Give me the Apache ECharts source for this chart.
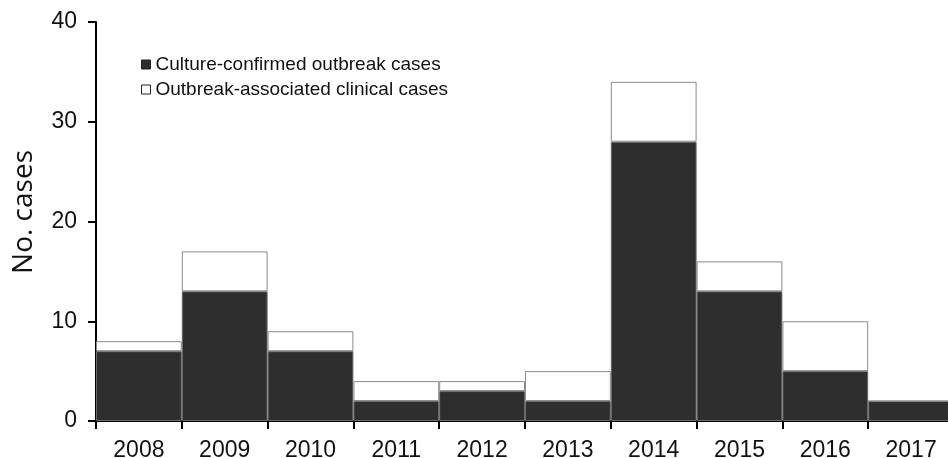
<!DOCTYPE html>
<html>
<head>
<meta charset="utf-8">
<script src="https://cdn.jsdelivr.net/npm/echarts@6/dist/echarts.min.js"></script>
<style>
  html, body { margin: 0; padding: 0; background: #fff; }
  #chart { width: 948px; height: 458px; }
</style>
</head>
<body>
<div id="chart"></div>
<script>
// data
const years = ['2008', '2009', '2010', '2011', '2012', '2013', '2014', '2015', '2016', '2017']
const cultureConfirmed = [7, 13, 7, 2, 3, 2, 28, 13, 5, 2]
const clinicalCases = [1, 4, 2, 2, 1, 3, 6, 3, 5, 0]
const yTicks = [0, 10, 20, 30, 40]

const chart = echarts.init(document.getElementById('chart'))

const axisFont = 'Liberation Sans, Arial, sans-serif'

const option = {
  animation: false,
  grid: {
    left: 96,
    right: -6,
    top: 22,
    bottom: 37,
    // let the last bar run off the right edge like in the original
    outerBoundsMode: 'none'
  },
  // y axis title, placed by hand to sit a little above the middle like the original
  graphic: [
    {
      type: 'text',
      left: 10,
      top: 150,
      rotation: Math.PI / 2,
      style: {
        text: 'No. cases',
        font: '28px "Open Sans", "Noto Sans", sans-serif',
        fill: '#111'
      }
    }
  ],
  legend: {
    orient: 'vertical',
    left: 136,
    top: 50,
    itemWidth: 9,
    itemHeight: 9,
    itemGap: 6,
    icon: 'rect',
    textStyle: {
      fontFamily: axisFont,
      fontSize: 19,
      color: '#111'
    },
    data: [
      { name: 'Culture-confirmed outbreak cases', itemStyle: { color: '#2e2e2e', borderColor: '#222', borderWidth: 1 } },
      { name: 'Outbreak-associated clinical cases', itemStyle: { color: '#fff', borderColor: '#222', borderWidth: 1 } }
    ]
  },
  xAxis: {
    type: 'category',
    data: years,
    boundaryGap: true,
    axisLine: { lineStyle: { color: '#000', width: 2 } },
    axisTick: { show: true, inside: false, length: 8, lineStyle: { color: '#000', width: 2 } },
    axisLabel: {
      fontFamily: axisFont,
      fontSize: 23,
      color: '#111',
      margin: 18,
      interval: 0
    }
  },
  yAxis: {
    type: 'value',
    min: yTicks[0],
    max: yTicks[yTicks.length - 1],
    interval: 10,
    axisLine: { show: true, lineStyle: { color: '#000', width: 2 } },
    axisTick: { show: true, length: 8, lineStyle: { color: '#000', width: 2 } },
    axisLabel: {
      fontFamily: axisFont,
      fontSize: 23,
      color: '#111',
      margin: 19
    },
    splitLine: { show: false }
  },
  series: [
    {
      name: 'Culture-confirmed outbreak cases',
      type: 'bar',
      stack: 'cases',
      data: cultureConfirmed,
      barCategoryGap: 0,
      itemStyle: {
        color: '#2e2e2e',
        borderColor: '#6a6a6a',
        borderWidth: 1
      }
    },
    {
      name: 'Outbreak-associated clinical cases',
      type: 'bar',
      stack: 'cases',
      data: clinicalCases,
      barCategoryGap: 0,
      itemStyle: {
        color: '#fff',
        borderColor: '#8a8a8a',
        borderWidth: 1
      }
    }
  ]
}

chart.setOption(option)
window.addEventListener('resize', () => {
  chart.resize()
})
</script>
</body>
</html>
